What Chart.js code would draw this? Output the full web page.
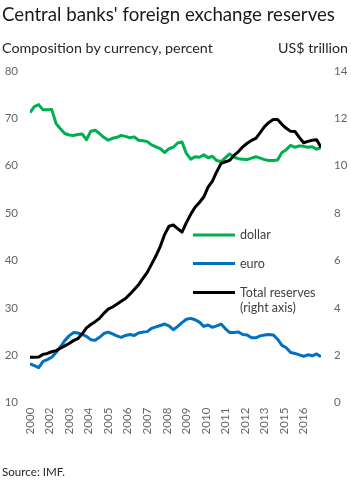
<!DOCTYPE html>
<html>
<head>
<meta charset="utf-8">
<script src="https://cdn.jsdelivr.net/npm/chart.js@4.4.1/dist/chart.umd.min.js"></script>
<style>
  html, body { margin: 0; padding: 0; background: #fff; }
  #wrap { position: relative; width: 351px; height: 491px; overflow: hidden; font-family: Lato, "DejaVu Sans", sans-serif; }
  canvas { position: absolute; left: 0; top: 0; }
  .txt { position: absolute; white-space: nowrap; line-height: 1; color: #262626; }
</style>
</head>
<body>
<div id="wrap">
  <canvas id="c" width="351" height="491"></canvas>
  <div class="txt" id="title" data-w="333" style="left:2px; top:5px; font-size:18px; color:#1a1a1a;">Central banks' foreign exchange reserves</div>
  <div class="txt" id="sub" data-w="211" style="left:2px; top:41px; font-size:13px;">Composition by currency, percent</div>
  <div class="txt" id="unit" data-w="70" style="right:3px; top:41px; font-size:13px;">US$ trillion</div>
  <div class="txt" id="src" data-w="63" style="left:2px; top:466px; font-size:12px;">Source: IMF.</div>
</div>
<script>
// quarterly observations, 2000 onwards (index 0 = first quarter)
const dollarShare = [71.2,72.5,72.9,71.8,71.8,71.9,68.9,67.8,66.8,66.5,66.4,66.6,66.7,65.5,67.3,67.5,
  66.8,66.0,65.4,65.8,66.0,66.4,66.2,65.9,66.1,65.4,65.3,65.1,64.4,64.0,63.6,62.8,63.6,63.9,64.8,65.0,
  62.6,61.4,61.9,61.8,62.3,61.7,62.0,61.1,60.9,61.7,62.5,61.8,61.5,61.4,61.3,61.6,61.9,61.6,61.3,61.1,
  61.1,61.2,62.8,63.4,64.3,63.9,64.2,64.1,63.9,64.0,63.5,63.8];
const euroShare = [18.2,17.8,17.4,18.7,19.1,19.6,20.6,21.8,23.1,24.1,24.8,24.7,24.4,24.0,23.3,23.2,
  23.8,24.6,24.9,24.5,24.1,23.8,24.2,24.4,24.2,24.7,24.9,25.0,25.7,26.0,26.3,26.6,26.2,25.4,26.1,26.9,
  27.6,27.8,27.5,27.0,26.1,26.4,25.9,26.2,26.6,25.6,24.8,24.8,24.9,24.4,24.3,23.7,23.7,24.1,24.3,24.4,
  24.3,23.4,22.1,21.6,20.6,20.4,20.1,19.8,20.1,19.9,20.3,19.7];
const totalReserves = [1.92,1.92,1.93,2.04,2.08,2.15,2.20,2.30,2.40,2.50,2.62,2.70,2.90,3.16,3.30,3.42,
  3.56,3.77,3.95,4.04,4.16,4.28,4.40,4.58,4.78,4.98,5.25,5.50,5.85,6.20,6.60,7.10,7.45,7.50,7.35,7.20,
  7.60,7.95,8.25,8.45,8.68,9.10,9.35,9.75,10.10,10.17,10.23,10.45,10.60,10.80,10.95,11.07,11.16,11.40,
  11.65,11.83,11.95,11.95,11.75,11.58,11.46,11.45,11.20,10.97,11.03,11.08,11.10,10.78];
const xTickPositions = [0,4.5,9,13.5,18,22.5,27,31.5,36,40.5,45,49.5,54,58.5,63];
const xTickLabels = ['2000','2002','2003','2004','2005','2006','2007','2008','2009','2010','2011','2012','2013','2015','2016'];
const leftTicks = [10,20,30,40,50,60,70,80];
const rightTicks = [0,2,4,6,8,10,12,14];
const seriesNames = ['dollar','euro',['Total reserves','(right axis)']];

// fit HTML text widths
document.querySelectorAll('.txt').forEach(el => {
  const target = parseFloat(el.dataset.w);
  const w = el.getBoundingClientRect().width;
  const fs = parseFloat(el.style.fontSize);
  el.style.fontSize = (fs * target / w).toFixed(2) + 'px';
});

const FONT = 'Lato, "DejaVu Sans", sans-serif';
const TICKCOL = '#666666';
const toXY = arr => arr.map((v, i) => ({x: i, y: v}));

const legendPlugin = {
  id: 'innerLegend',
  afterDatasetsDraw(chart) {
    const ctx = chart.ctx;
    const ds = chart.data.datasets;
    const x0 = 193, x1 = 235, tx = 240;
    const rows = [235, 263.5, 292.5];
    ctx.save();
    ctx.font = '12.5px ' + FONT;
    ctx.fillStyle = '#404040';
    ctx.textBaseline = 'middle';
    ds.forEach((d, i) => {
      ctx.strokeStyle = d.borderColor;
      ctx.lineWidth = 3;
      ctx.beginPath();
      ctx.moveTo(x0, rows[i]);
      ctx.lineTo(x1, rows[i]);
      ctx.stroke();
      const names = [].concat(seriesNames[i]);
      names.forEach((n, k) => ctx.fillText(n, tx, rows[i] + k * 15));
    });
    ctx.restore();
  }
};

new Chart(document.getElementById('c'), {
  type: 'line',
  data: {
    datasets: [
      {label: 'dollar', data: toXY(dollarShare), borderColor: '#00B050', yAxisID: 'y', order: 1},
      {label: 'euro', data: toXY(euroShare), borderColor: '#0070C0', yAxisID: 'y', order: 2},
      {label: 'Total reserves (right axis)', data: toXY(totalReserves), borderColor: '#000000', yAxisID: 'y1', order: 0}
    ]
  },
  options: {
    responsive: false,
    animation: false,
    layout: {padding: {top: 71, bottom: 0, left: 0, right: 0}},
    elements: {
      line: {borderWidth: 3, tension: 0, borderCapStyle: 'butt', borderJoinStyle: 'round'},
      point: {radius: 0}
    },
    plugins: {legend: {display: false}, tooltip: {enabled: false}, title: {display: false}},
    scales: {
      x: {
        type: 'linear', min: 0, max: dollarShare.length - 1,
        grid: {display: false, drawTicks: false}, border: {display: false},
        afterBuildTicks: s => { s.ticks = xTickPositions.map(v => ({value: v})); },
        afterFit: s => { s.height = 88.3; },
        ticks: {
          autoSkip: false, minRotation: 90, maxRotation: 90, padding: 5,
          color: TICKCOL, font: {family: FONT, size: 11.5},
          callback: v => xTickLabels[xTickPositions.indexOf(v)]
        }
      },
      y: {
        position: 'left', min: 10, max: 80,
        grid: {display: false, drawTicks: false}, border: {display: false},
        afterBuildTicks: s => { s.ticks = leftTicks.map(v => ({value: v})); },
        afterFit: s => { s.width = 30; },
        ticks: {padding: 12, color: TICKCOL, font: {family: FONT, size: 11.5}}
      },
      y1: {
        position: 'right', min: 0, max: 14,
        grid: {display: false, drawTicks: false}, border: {display: false},
        afterBuildTicks: s => { s.ticks = rightTicks.map(v => ({value: v})); },
        afterFit: s => { s.width = 30; },
        ticks: {padding: 13, color: TICKCOL, font: {family: FONT, size: 11.5}}
      }
    }
  },
  plugins: [legendPlugin]
});
</script>
</body>
</html>
